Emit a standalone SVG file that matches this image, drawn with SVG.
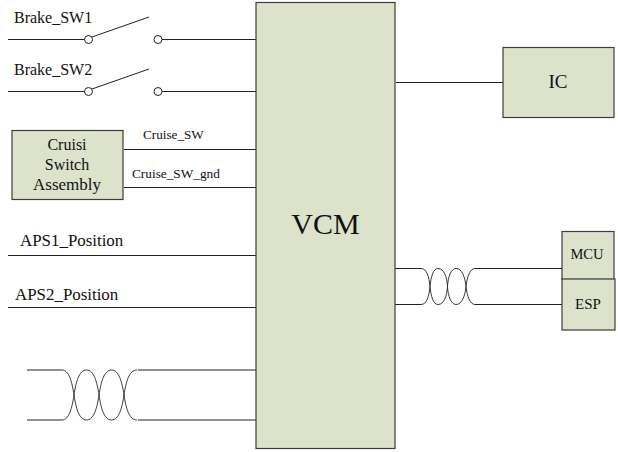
<svg xmlns="http://www.w3.org/2000/svg" width="618" height="452" viewBox="0 0 618 452">
<style>
.b{fill:#dde2cb;stroke:#3c3c3c;stroke-width:1.2}
.l{fill:none;stroke:#222;stroke-width:1}
.w{fill:none;stroke:#222;stroke-width:.9}
.c{fill:#fff;stroke:#222;stroke-width:1}
text{font-family:"Liberation Serif","Times New Roman",serif;fill:#111}
.m{text-anchor:middle}
</style>
<rect width="618" height="452" fill="#fff"/>
<g id="connectors">
<path class="l" d="M8 39.500H85M162 39.500H256M8 91.500H85M162 91.500H256M124 149.500H256M124 187.500H256M8 255.500H256M8 307.500H256"/>
<path class="l" d="M92 37L149 17M92 89L149 69"/>
<circle class="c" cx="88.500" cy="39.500" r="4"/>
<circle class="c" cx="158" cy="39.500" r="4"/>
<circle class="c" cx="88.500" cy="91.500" r="4"/>
<circle class="c" cx="158" cy="91.500" r="4"/>
<path class="l" d="M396 82.500H503"/>
<path class="l" d="M395 268.500H421M475 268.500H562M395 304.500H421M475 304.500H562"/>
<path class="w" d="M421 268.500C427 268.500 429 277 430 286.500C431 296 433 304.500 438 304.500C444 304.500 447 296 447.500 286.500C448 277 451 268.500 456 268.500C462 268.500 465 277 466 286.500C467 296 470 304.500 475 304.500"/>
<path class="w" d="M421 304.500C427 304.500 429 296 430 286.500C431 277 433 268.500 438 268.500C444 268.500 447 277 447.500 286.500C448 296 451 304.500 456 304.500C462 304.500 465 296 466 286.500C467 277 470 268.500 475 268.500"/>
<path class="l" d="M27 370H62M138 370H256M27 420H62M138 420H256"/>
<path class="w" d="M62 370C69 370 72 382 74 395C76 408 79 420 86.500 420C94 420 97 408 99 395C101 382 104 370 111.500 370C119 370 122 382 124 395C126 408 129 420 137 420"/>
<path class="w" d="M62 420C69 420 72 408 74 395C76 382 79 370 86.500 370C94 370 97 382 99 395C101 408 104 420 111.500 420C119 420 122 408 124 395C126 382 129 370 137 370"/>
</g>
<g id="vcm"><rect class="b" x="256" y="2.500" width="139" height="446"/><text class="m" x="325.500" y="234" font-size="30">VCM</text></g>
<g id="ic"><rect class="b" x="503" y="47.500" width="111" height="70"/><text class="m" x="558" y="88" font-size="19">IC</text></g>
<g id="mcu"><rect class="b" x="562" y="231.500" width="52" height="48"/><text class="m" x="587" y="259" font-size="14.500">MCU</text></g>
<g id="esp"><rect class="b" x="562" y="279" width="53" height="51"/><text class="m" x="588" y="309" font-size="15">ESP</text></g>
<g id="cruise"><rect class="b" x="12" y="130.500" width="111" height="69"/><text class="m" x="67" y="150" font-size="16">Cruisi</text><text class="m" x="67" y="170" font-size="16">Switch</text><text class="m" x="67" y="190" font-size="17">Assembly</text></g>
<g id="labels">
<text x="14" y="23" font-size="16">Brake_SW1</text>
<text x="14" y="75" font-size="16">Brake_SW2</text>
<text x="143" y="139" font-size="13.200">Cruise_SW</text>
<text x="132" y="178" font-size="13.300">Cruise_SW_gnd</text>
<text x="20" y="245.500" font-size="16.900">APS1_Position</text>
<text x="15" y="299.500" font-size="16.900">APS2_Position</text>
</g>
</svg>
